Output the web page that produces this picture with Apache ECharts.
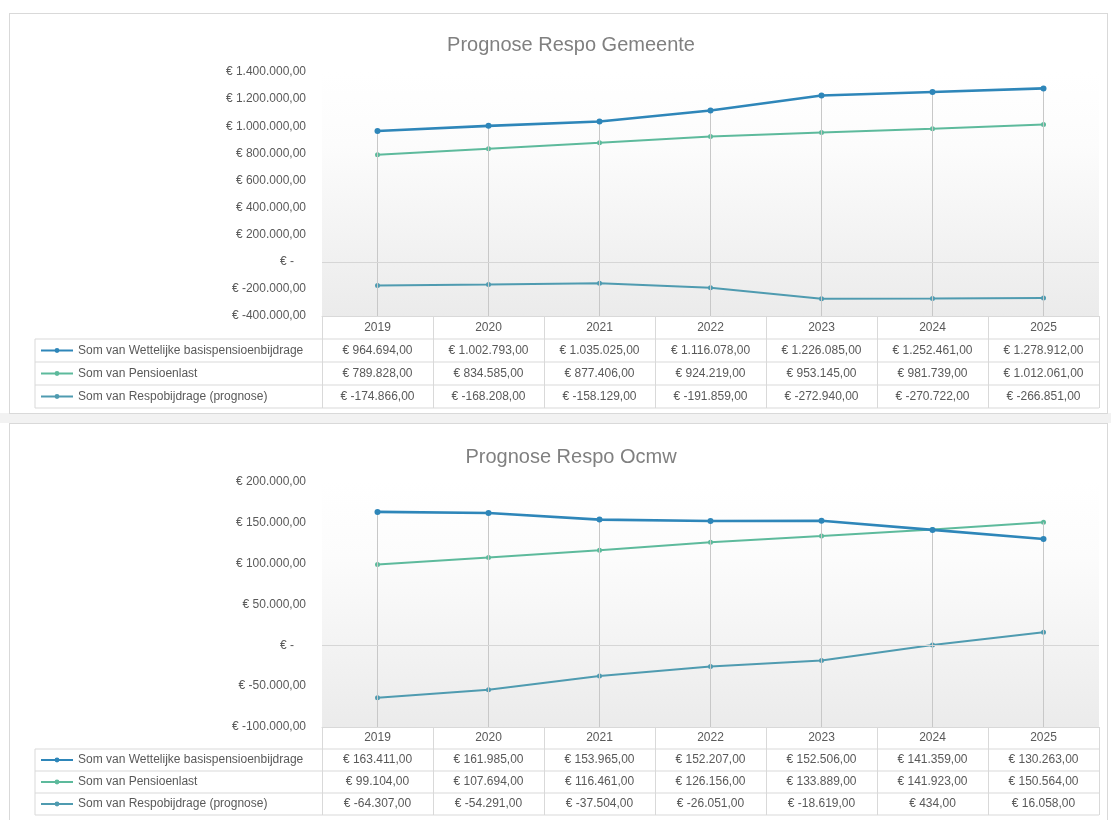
<!DOCTYPE html>
<html>
<head>
<meta charset="utf-8">
<script src="https://cdn.jsdelivr.net/npm/echarts/dist/echarts.min.js"></script>
<style>
  html, body { margin: 0; padding: 0; background: #ffffff; width: 1111px; height: 820px; overflow: hidden; }
  .panel { position: absolute; border: 1px solid #d9d9d9; background: #ffffff; box-sizing: border-box; }
  .gap { position: absolute; background: #f2f2f2; }
  .chart { position: absolute; left: 0; width: 1111px; }
</style>
</head>
<body>
<div class="gap" style="left:0;top:413px;width:1111px;height:10px;"></div>
<div class="panel" style="left:9px;top:13px;width:1099px;height:401px;"></div>
<div class="panel" style="left:9px;top:423px;width:1099px;height:410px;"></div>
<div id="c1" class="chart" style="top:0;height:415px;"></div>
<div id="c2" class="chart" style="top:415px;height:440px;"></div>
<script>
// ---------- data ----------
const years = ['2019', '2020', '2021', '2022', '2023', '2024', '2025'];
const seriesNames = [
  'Som van Wettelijke basispensioenbijdrage',
  'Som van Pensioenlast',
  'Som van Respobijdrage (prognose)'
];

// Prognose Respo Gemeente
const gemTitle = 'Prognose Respo Gemeente';
const gemWettelijke = [964694, 1002793, 1035025, 1116078, 1226085, 1252461, 1278912];
const gemPensioenlast = [789828, 834585, 877406, 924219, 953145, 981739, 1012061];
const gemRespo = [-174866, -168208, -158129, -191859, -272940, -270722, -266851];
const gemAxis = { min: -400000, max: 1400000, interval: 200000 };

// Prognose Respo Ocmw
const ocmwTitle = 'Prognose Respo Ocmw';
const ocmwWettelijke = [163411, 161985, 153965, 152207, 152506, 141359, 130263];
const ocmwPensioenlast = [99104, 107694, 116461, 126156, 133889, 141923, 150564];
const ocmwRespo = [-64307, -54291, -37504, -26051, -18619, 434, 16058];
const ocmwAxis = { min: -100000, max: 200000, interval: 50000 };

// ---------- styling ----------
const FONT = "'Liberation Sans', Arial, sans-serif";
const TXT = '#595959';
const GRID_LINE = '#d9d9d9';
const colors = ['#2e86b9', '#5dba9c', '#4f9bb0'];
const widths = [2.6, 2, 2];

function euro(v) {
  if (v === 0) return '€ -';
  const neg = v < 0;
  const parts = Math.abs(v).toFixed(2).split('.');
  const intPart = parts[0].replace(/\B(?=(\d{3})+(?!\d))/g, '.');
  return '€ ' + (neg ? '-' : '') + intPart + ',' + parts[1];
}

function makeOption(cfg) {
  const data = cfg.data;
  const rowH = cfg.rowH;
  const plotBottom = cfg.gridTop + cfg.gridHeight;
  const tableBottom = plotBottom + rowH * 4;
  const dropData = years.map((y, i) => {
    const top = Math.max(data[0][i], data[1][i], data[2][i]);
    return [{ coord: [i, top] }, { coord: [i, cfg.axis.min] }];
  });
  dropData.push({ yAxis: 0, lineStyle: { color: '#d6d6d6', width: 1 } });

  const hLines = [];
  for (let r = 1; r <= 4; r++) {
    const y = plotBottom + rowH * r;
    hLines.push({ type: 'line', silent: true, shape: { x1: 35, y1: y, x2: 1099, y2: y },
      style: { stroke: GRID_LINE, lineWidth: 1 } });
  }
  hLines.push({ type: 'line', silent: true, shape: { x1: 35, y1: plotBottom + rowH, x2: 35, y2: tableBottom },
    style: { stroke: GRID_LINE, lineWidth: 1 } });

  const series = seriesNames.map((name, k) => ({
    name: name,
    type: 'line',
    data: data[k],
    symbol: 'circle',
    symbolSize: k === 0 ? 6 : 5,
    z: 5 - k,
    itemStyle: { color: colors[k] },
    lineStyle: { color: colors[k], width: widths[k] },
    emphasis: { disabled: true },
    animation: false
  }));
  series.push({
    name: 'drop', type: 'line', data: [], silent: true, animation: false, z: 1,
    markLine: {
      silent: true, symbol: 'none', animation: false, label: { show: false },
      lineStyle: { color: '#c8c8c8', width: 1, type: 'solid' },
      emphasis: { disabled: true },
      data: dropData
    }
  });

  return {
    animation: false,
    textStyle: { fontFamily: FONT },
    title: {
      text: cfg.title, left: 566, top: cfg.titleTop, textAlign: 'center',
      textStyle: { fontFamily: FONT, fontSize: 20, fontWeight: 'normal', color: '#808080' }
    },
    legend: {
      data: seriesNames, orient: 'vertical', left: 40, top: plotBottom + rowH * 1.5 - 7,
      padding: 0, itemWidth: 32, itemHeight: 6, itemGap: rowH - 14, selectedMode: false,
      textStyle: { fontFamily: FONT, fontSize: 12, color: TXT, lineHeight: 14, height: 14 }
    },
    grid: {
      left: 322, width: 777, top: cfg.gridTop, height: cfg.gridHeight, show: true,
      borderWidth: 0,
      backgroundColor: new echarts.graphic.LinearGradient(0, 0, 0, 1, [
        { offset: 0, color: '#ffffff' },
        { offset: 0.3, color: '#fcfcfc' },
        { offset: 1, color: '#ebebeb' }
      ])
    },
    xAxis: {
      type: 'category', data: years, boundaryGap: true,
      axisLine: { show: true, onZero: false, lineStyle: { color: GRID_LINE } },
      axisTick: { show: true, alignWithLabel: false, length: rowH * 4, lineStyle: { color: GRID_LINE } },
      splitLine: { show: false },
      axisLabel: {
        interval: 0, margin: 0, hideOverlap: false,
        formatter: function (val, i) {
          return '{h|' + val + '}\n{v|' + euro(data[0][i]) + '}\n{v|' + euro(data[1][i]) + '}\n{v|' + euro(data[2][i]) + '}';
        },
        rich: {
          h: { fontFamily: FONT, fontSize: 12, color: TXT, lineHeight: rowH, align: 'center' },
          v: { fontFamily: FONT, fontSize: 12, color: TXT, lineHeight: rowH, align: 'center' }
        }
      }
    },
    yAxis: {
      type: 'value', min: cfg.axis.min, max: cfg.axis.max, interval: cfg.axis.interval,
      axisLine: { show: false }, axisTick: { show: false }, splitLine: { show: false },
      axisLabel: {
        margin: 16, fontFamily: FONT, fontSize: 12, color: TXT,
        formatter: function (v) { return v === 0 ? '{z|€ -}' : euro(v); },
        rich: { z: { fontFamily: FONT, fontSize: 12, color: TXT, padding: [0, 12, 0, 0] } }
      }
    },
    graphic: hLines,
    series: series
  };
}

const c1 = echarts.init(document.getElementById('c1'), null, { renderer: 'canvas' });
c1.setOption(makeOption({
  title: gemTitle, titleTop: 30, gridTop: 72, gridHeight: 244, rowH: 23,
  axis: gemAxis, data: [gemWettelijke, gemPensioenlast, gemRespo]
}));

const c2 = echarts.init(document.getElementById('c2'), null, { renderer: 'canvas' });
c2.setOption(makeOption({
  title: ocmwTitle, titleTop: 27, gridTop: 67, gridHeight: 245, rowH: 22,
  axis: ocmwAxis, data: [ocmwWettelijke, ocmwPensioenlast, ocmwRespo]
}));
</script>
</body>
</html>
